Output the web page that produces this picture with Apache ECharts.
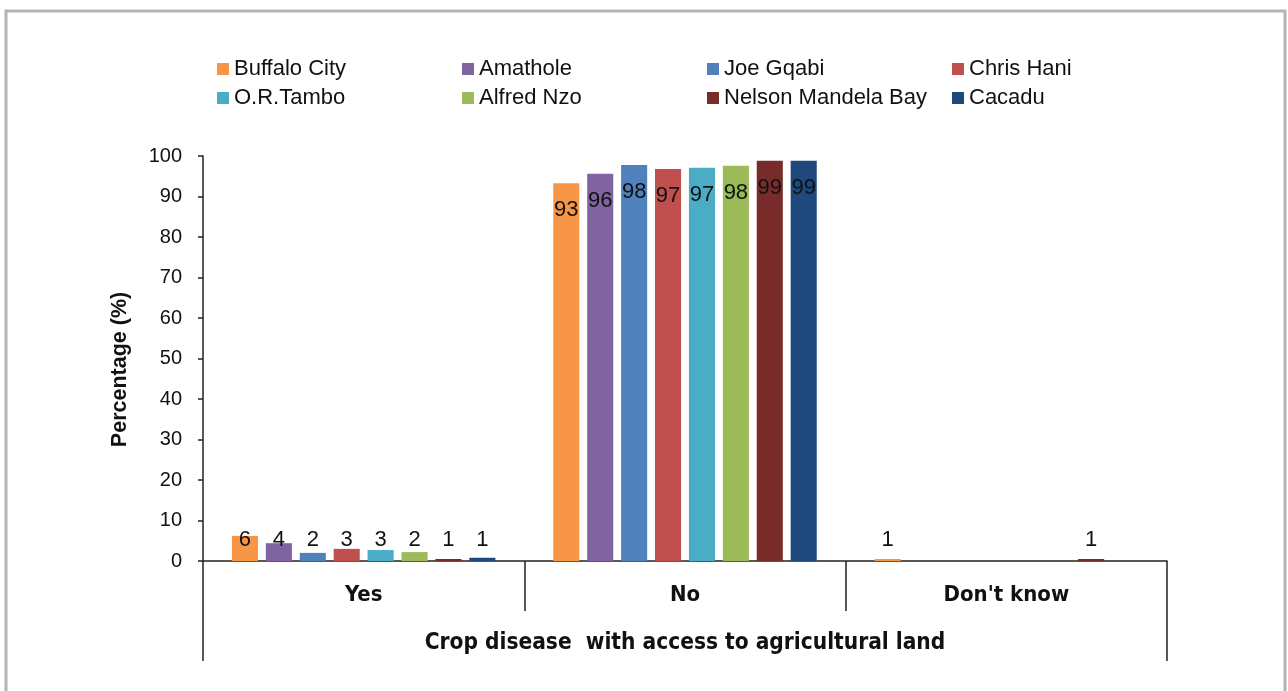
<!DOCTYPE html>
<html>
<head>
<meta charset="utf-8">
<script src="https://cdn.jsdelivr.net/npm/echarts@6/dist/echarts.min.js"></script>
<style>
  html, body { margin: 0; padding: 0; background: #fff; }
  #chart { width: 1288px; height: 691px; }
</style>
</head>
<body>
<div id="chart"></div>
<script>
// categories on the x axis
const categories = ['Yes', 'No', "Don't know"];
const axisTitle = 'Crop disease  with access to agricultural land';
const districts = ['Buffalo City', 'Amathole', 'Joe Gqabi', 'Chris Hani',
    'O.R.Tambo', 'Alfred Nzo', 'Nelson Mandela Bay', 'Cacadu'];

// percentage per district, one array per answer
const yesValues = [6.2, 4.4, 2.0, 3.0, 2.7, 2.2, 0.5, 0.8];
const noValues = [93.3, 95.6, 97.8, 96.8, 97.1, 97.6, 98.8, 98.8];
const dontKnowValues = [0.5, 0, 0, 0, 0, 0, 0.5, 0];

const yTicks = [0, 10, 20, 30, 40, 50, 60, 70, 80, 90, 100];

const colors = ['#F79646', '#8064A2', '#4F81BD', '#C0504D',
    '#4BACC6', '#9BBB59', '#772C2A', '#1F497D'];

const font = 'Liberation Sans, Arial, sans-serif';
const narrow = 'Liberation Sans Narrow, DejaVu Sans Condensed, Arial Narrow, sans-serif';

const byAnswer = [yesValues, noValues, dontKnowValues];

const series = districts.map((name, i) => ({
    name: name,
    type: 'bar',
    barGap: '30%',
    barCategoryGap: '18%',
    itemStyle: { color: colors[i] },
    data: byAnswer.map((arr, c) => ({
        value: arr[i],
        label: {
            show: arr[i] > 0,
            position: c === 1 ? 'insideTop' : 'insideBottom',
            distance: c === 1 ? 16 : 10,
            formatter: p => Math.round(p.value),
            color: '#111',
            fontSize: 22,
            fontFamily: font
        }
    }))
}));

const chart = echarts.init(document.getElementById('chart'));
chart.setOption({
    animation: false,
    backgroundColor: '#fff',
    graphic: [{
        type: 'rect',
        shape: { x: 6, y: 11, width: 1279, height: 700 },
        style: { fill: 'none', stroke: '#b3b3b3', lineWidth: 3 },
        silent: true
    }],
    legend: {
        left: 212,
        top: 52,
        width: 1000,
        itemWidth: 12,
        itemHeight: 12,
        itemGap: 5,
        icon: 'rect',
        data: districts,
        formatter: n => '{a|' + n + '}',
        textStyle: {
            color: '#111',
            fontSize: 22,
            fontFamily: font,
            lineHeight: 24,
            rich: { a: { width: 223, fontSize: 22, fontFamily: font, color: '#111' } }
        }
    },
    grid: {
        left: 203,
        right: 121,
        top: 156,
        bottom: 130,
        containLabel: false
    },
    xAxis: [{
        type: 'category',
        data: categories,
        position: 'bottom',
        axisLine: { lineStyle: { color: '#222', width: 1.5 } },
        axisTick: { show: true, length: 50, lineStyle: { color: '#222', width: 1.5 } },
        axisLabel: {
            margin: 23,
            color: '#111',
            fontSize: 22,
            fontWeight: 'bold',
            fontFamily: narrow
        }
    }, {
        type: 'category',
        data: [axisTitle],
        position: 'bottom',
        offset: 50,
        axisLine: { show: false },
        axisTick: { show: true, length: 50, lineStyle: { color: '#222', width: 1.5 } },
        axisLabel: {
            margin: 21,
            color: '#111',
            fontSize: 22.5,
            fontWeight: 'bold',
            fontFamily: narrow
        }
    }],
    yAxis: {
        type: 'value',
        min: yTicks[0],
        max: yTicks[yTicks.length - 1],
        interval: yTicks[1] - yTicks[0],
        name: 'Percentage (%)',
        nameLocation: 'middle',
        nameGap: 72,
        nameTextStyle: {
            color: '#111',
            fontSize: 21.5,
            fontWeight: 'bold',
            fontFamily: font,
            padding: [0, 22, 0, 0]
        },
        axisLine: { show: true, lineStyle: { color: '#222', width: 1.5 } },
        axisTick: { show: true, length: 5, lineStyle: { color: '#222', width: 1.5 } },
        axisLabel: {
            margin: 21,
            color: '#111',
            fontSize: 20,
            fontFamily: font
        },
        splitLine: { show: false }
    },
    series: series
});
</script>
</body>
</html>
